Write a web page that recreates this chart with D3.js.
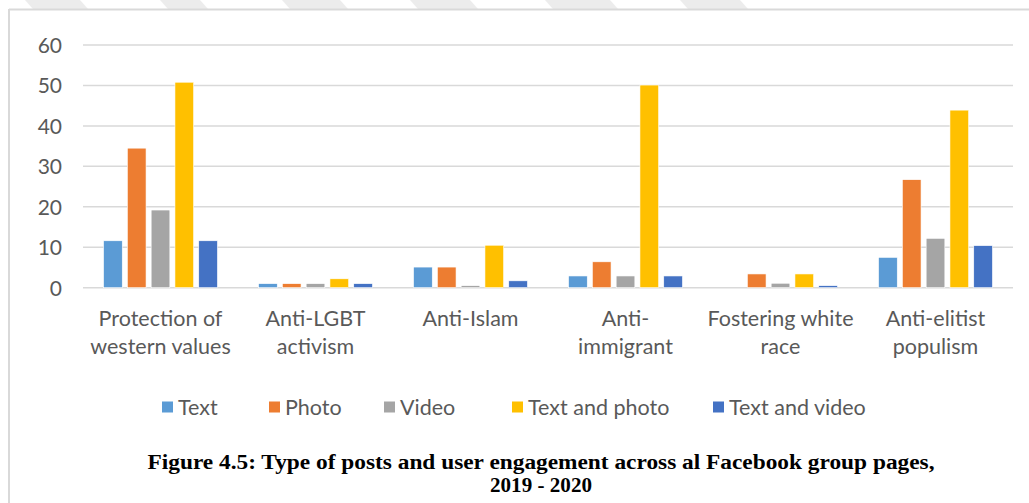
<!DOCTYPE html>
<html>
<head>
<meta charset="utf-8">
<script src="https://cdn.jsdelivr.net/npm/d3@7"></script>
<style>
html,body{margin:0;padding:0;background:#fff;}
svg{display:block;}
</style>
</head>
<body>
<svg id="chart" width="1029" height="503"></svg>
<script>
// ---- data ----
const categories = [
  ["Protection of", "western values"],
  ["Anti-LGBT", "activism"],
  ["Anti-Islam"],
  ["Anti-", "immigrant"],
  ["Fostering white", "race"],
  ["Anti-elitist", "populism"]
];
const seriesNames = ["Text", "Photo", "Video", "Text and photo", "Text and video"];
const textValues        = [11.6, 1.0, 5.1, 2.9, 0.0, 7.5];
const photoValues       = [34.5, 1.0, 5.1, 6.4, 3.4, 26.7];
const videoValues       = [19.2, 1.0, 0.5, 2.9, 1.1, 12.2];
const textPhotoValues   = [50.8, 2.2, 10.5, 50.1, 3.4, 43.9];
const textVideoValues   = [11.6, 1.0, 1.7, 2.9, 0.5, 10.4];
const yTicks = [0, 10, 20, 30, 40, 50, 60];
const captionLines = [
  "Figure 4.5: Type of posts and user engagement across al Facebook group pages,",
  "2019 - 2020"
];

// ---- style / layout ----
const colors = ["#5B9BD5", "#ED7D31", "#A5A5A5", "#FFC000", "#4472C4"];
const legendX = [162, 269, 384, 512, 713];
const captionWidths = [787, 102];
const font = "Lato, 'Open Sans', sans-serif";
const textColor = "#595959";

const seriesValues = [textValues, photoValues, videoValues, textPhotoValues, textVideoValues];
const svg = d3.select("#chart");

// watermark shapes at the top
const wm = [[25,80],[160,200],[282,340],[410,470],[545,610],[680,740]];
svg.selectAll("polygon.wm").data(wm).enter().append("polygon")
  .attr("points", d => `${d[0]},0 ${d[1]},0 ${d[1]+8},9 ${d[0]+8},9`)
  .attr("fill", "#ececec");

// frame
svg.append("line").attr("x1", 9).attr("x2", 1029).attr("y1", 9.5).attr("y2", 9.5)
  .attr("stroke", "#d9d9d9").attr("stroke-width", 2);
svg.append("line").attr("x1", 9).attr("x2", 9).attr("y1", 9).attr("y2", 503)
  .attr("stroke", "#d9d9d9").attr("stroke-width", 2);

const x0 = d3.scaleBand().domain(d3.range(categories.length)).range([83, 1013]).padding(0);
const groupW = 119;
const x1 = d3.scaleBand().domain(d3.range(seriesNames.length)).range([0, groupW])
  .paddingInner(0.214).paddingOuter(0.107);
const y = d3.scaleLinear().domain([0, 60]).range([287.7, 45]);

// gridlines
const grid = svg.append("g");
grid.selectAll("line").data(yTicks).enter().append("line")
  .attr("x1", 83).attr("x2", 1013)
  .attr("y1", d => y(d)).attr("y2", d => y(d))
  .attr("stroke", "#d9d9d9").attr("stroke-width", 1.5);

// y axis labels via d3 axis
const yAxis = d3.axisLeft(y).tickValues(yTicks).tickSize(0).tickPadding(0);
const yg = svg.append("g").attr("transform", "translate(62,0)").call(yAxis);
yg.select(".domain").remove();
yg.selectAll("text").attr("font-family", font).attr("font-size", 21)
  .attr("fill", textColor).attr("dy", "0.35em");

// bars
const groups = svg.append("g").selectAll("g").data(categories.map((c, i) => i)).enter().append("g")
  .attr("transform", i => `translate(${x0(i) + x0.bandwidth() / 2 - groupW / 2},0)`);
groups.selectAll("rect").data(i => seriesValues.map((vals, s) => ({s, v: vals[i]}))).enter()
  .append("rect")
  .attr("x", d => x1(d.s))
  .attr("width", x1.bandwidth())
  .attr("y", d => y(d.v))
  .attr("height", d => y(0) - y(d.v))
  .attr("fill", d => colors[d.s])
  .attr("stroke", "#fff").attr("stroke-width", 0.6);

// category labels
const cat = svg.append("g");
categories.forEach((lines, i) => {
  lines.forEach((t, k) => {
    cat.append("text")
      .attr("x", x0(i) + x0.bandwidth() / 2)
      .attr("y", 318 + k * 28)
      .attr("dy", "0.35em")
      .attr("text-anchor", "middle")
      .attr("font-family", font).attr("font-size", 21.5)
      .attr("fill", textColor).text(t);
  });
});

// legend
const lg = svg.append("g");
seriesNames.forEach((n, i) => {
  lg.append("rect").attr("x", legendX[i]).attr("y", 401.5).attr("width", 11).attr("height", 11)
    .attr("fill", colors[i]);
  lg.append("text").attr("x", legendX[i] + 16).attr("y", 407).attr("dy", "0.35em")
    .attr("font-family", font).attr("font-size", 21.5).attr("fill", textColor).text(n);
});

// caption
captionLines.forEach((t, k) => {
  svg.append("text").attr("x", 541).attr("y", 469 + k * 22.5)
    .attr("text-anchor", "middle")
    .attr("font-family", "'Liberation Serif', 'Times New Roman', serif")
    .attr("font-weight", "bold").attr("font-size", 20).attr("fill", "#000")
    .attr("textLength", captionWidths[k]).attr("lengthAdjust", "spacingAndGlyphs")
    .text(t);
});
</script>
</body>
</html>
